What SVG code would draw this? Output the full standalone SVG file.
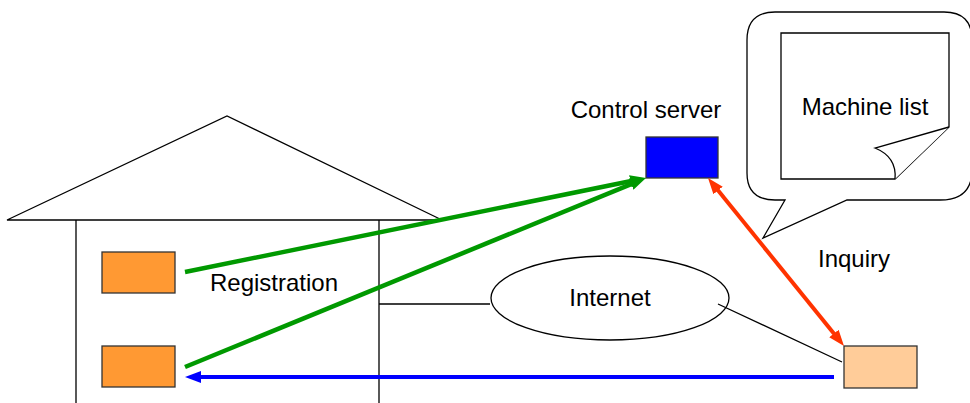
<svg xmlns="http://www.w3.org/2000/svg" width="970" height="403" viewBox="0 0 970 403">
<style>
.ln{fill:none;stroke:#000;stroke-width:1.3}
.t{font-family:"Liberation Sans",Arial,sans-serif;font-size:24px;fill:#000}
.box{stroke:#333;stroke-width:1.3}
</style>
<defs>
<marker id="ag" markerUnits="userSpaceOnUse" markerWidth="16" markerHeight="12" viewBox="0 0 16 12" refX="6" refY="6" orient="auto"><path d="M0,0 L16,6 L0,12 z" fill="#009900"/></marker>
<marker id="ab" markerUnits="userSpaceOnUse" markerWidth="16" markerHeight="12" viewBox="0 0 16 12" refX="6" refY="6" orient="auto"><path d="M0,0 L16,6 L0,12 z" fill="#0000FF"/></marker>
<marker id="ar" markerUnits="userSpaceOnUse" markerWidth="16" markerHeight="12" viewBox="0 0 16 12" refX="6" refY="6" orient="auto-start-reverse"><path d="M0,0 L16,6 L0,12 z" fill="#FF3300"/></marker>
</defs>
<rect width="970" height="403" fill="#fff"/>
<g id="house">
<path class="ln" d="M7,220 L227,116 L442,220 Z"/>
<path class="ln" d="M76,220 V403 M379,220 V403"/>
</g>
<g id="internet">
<ellipse class="ln" cx="610" cy="298" rx="119" ry="42"/>
<text class="t" x="610" y="306" text-anchor="middle">Internet</text>
</g>
<g id="bubble">
<path class="ln" fill="#fff" d="M785,200 L763,238 L847,200 H940 Q972,200 972,170 V40 Q972,12 944,12 H775 Q747,12 747,40 V173 Q747,200 775,200 Z" style="fill:#fff"/>
<path class="ln" style="fill:#fff" d="M781,33 H949 V127 L895,179 H781 Z"/>
<path class="ln" style="fill:#fff" d="M949,127 L875,148 Q897,157 895,179"/>
<text class="t" x="865" y="115" text-anchor="middle">Machine list</text>
</g>
<g id="server">
<rect class="box" x="646" y="137" width="72" height="41" fill="#0000FF"/>
<text class="t" x="646" y="118" text-anchor="middle">Control server</text>
</g>
<g id="pc1"><rect class="box" x="102" y="252" width="73" height="41" fill="#FF9933"/></g>
<g id="pc2"><rect class="box" x="102" y="346" width="73" height="41" fill="#FF9933"/></g>
<g id="client"><rect class="box" x="844" y="346" width="73" height="42" fill="#FFCC99"/></g>
<g id="connectors">
<path class="ln" d="M379,304 H490 M718,304 L842,362"/>
<path d="M185,272 L636.2,180" stroke="#009900" stroke-width="4.5" fill="none" marker-end="url(#ag)"/>
<path d="M185,367 L636.7,181.8" stroke="#009900" stroke-width="4.5" fill="none" marker-end="url(#ag)"/>
<path d="M834,377 H195" stroke="#0000FF" stroke-width="4" fill="none" marker-end="url(#ab)"/>
<path d="M714.3,185.8 L837.7,338.2" stroke="#FF3300" stroke-width="4" fill="none" marker-start="url(#ar)" marker-end="url(#ar)"/>
</g>
<g id="labels">
<text class="t" x="210" y="291">Registration</text>
<text class="t" x="818" y="267">Inquiry</text>
</g>
</svg>
